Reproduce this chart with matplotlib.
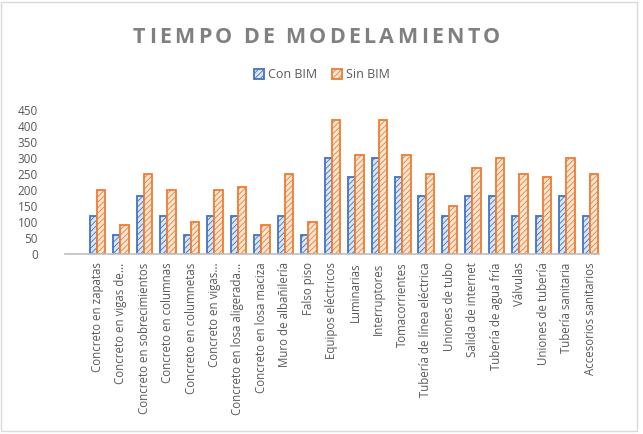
import matplotlib
matplotlib.use("Agg")
import matplotlib.pyplot as plt
from matplotlib.patches import Rectangle
import numpy as np

plt.rcParams['font.family'] = ['Open Sans', 'DejaVu Sans']
plt.rcParams['hatch.linewidth'] = 0.6

categories = ["Concreto en zapatas", "Concreto en vigas de...", "Concreto en sobrecimientos",
              "Concreto en columnas", "Concreto en columnetas", "Concreto en vigas...",
              "Concreto en losa aligerada...", "Concreto en losa maciza", "Muro de albañilería",
              "Falso piso", "Equipos eléctricos", "Luminarias", "Interruptores", "Tomacorrientes",
              "Tubería de línea eléctrica", "Uniones de tubo", "Salida de internet",
              "Tubería de agua fría", "Válvulas", "Uniones de tubería", "Tubería sanitaria",
              "Accesorios sanitarios"]
con_bim = [120, 60, 180, 120, 60, 120, 120, 60, 120, 60, 300, 240, 300, 240, 180, 120, 180,
           180, 120, 120, 180, 120]
sin_bim = [200, 90, 250, 200, 100, 200, 210, 90, 250, 100, 420, 310, 420, 310, 250, 150, 270,
           300, 250, 240, 300, 250]
yticks = [0, 50, 100, 150, 200, 250, 300, 350, 400, 450]
title = "TIEMPO DE MODELAMIENTO"

W, H = 643, 434
fig = plt.figure(figsize=(W/100, H/100), dpi=100)
fig.patches.append(Rectangle((1/W, 3/H), 636/W, 429/H, transform=fig.transFigure,
                             fill=False, edgecolor='#D9D9D9', linewidth=1))

ax = fig.add_axes([65/W, (H-254)/H, 534/W, 144/H])
x = np.arange(len(categories))
ax.bar(x - 0.16, con_bim, 0.3, facecolor='#DCE6F5', edgecolor='#4472C4', hatch='//////',
       linewidth=1.3, label='Con BIM')
ax.bar(x + 0.17, sin_bim, 0.36, facecolor='#FCE6D6', edgecolor='#ED7D31', hatch='//////',
       linewidth=1.3, label='Sin BIM')

ax.set_xlim(-1.37, 21.38)
ax.set_ylim(0, 450)
ax.set_yticks(yticks)
ax.set_xticks(x)
ax.set_xticklabels(categories, rotation=90, fontsize=8.3, color='#595959')
ax.tick_params(axis='y', length=0, labelsize=8.5, labelcolor='#595959', pad=19.5)
ax.tick_params(axis='x', length=0, pad=6)
for s in ['top', 'right', 'left']:
    ax.spines[s].set_visible(False)
ax.spines['bottom'].set_color('#BFBFBF')
ax.spines['bottom'].set_linewidth(1.2)
ax.set_facecolor('none')

# letter-spaced title, spread between x=133 and x=500 px
fig.canvas.draw()
r = fig.canvas.get_renderer()
tsize = 15.5
widths = []
for ch in title:
    t = fig.text(0, 0, ch if ch != ' ' else 'I', fontsize=tsize, fontweight='bold')
    bb = t.get_window_extent(renderer=r)
    widths.append(bb.width if ch != ' ' else bb.width * 0.6)
    t.remove()
x0, x1 = 133, 500
gap = (x1 - x0 - sum(widths)) / (len(title) - 1)
pos = x0
for ch, wd in zip(title, widths):
    if ch != ' ':
        fig.text(pos / W, (H - 43) / H, ch, fontsize=tsize, fontweight='bold',
                 color='#808080', ha='left', va='baseline')
    pos += wd + gap

leg = fig.legend(loc='center', bbox_to_anchor=(322/W, (H-75)/H), ncol=2, frameon=False,
                 fontsize=9, handlelength=0.8, handleheight=0.8, handletextpad=0.3,
                 columnspacing=1.2)
for t in leg.get_texts():
    t.set_color('#595959')

fig.savefig("out.png", dpi=100)
